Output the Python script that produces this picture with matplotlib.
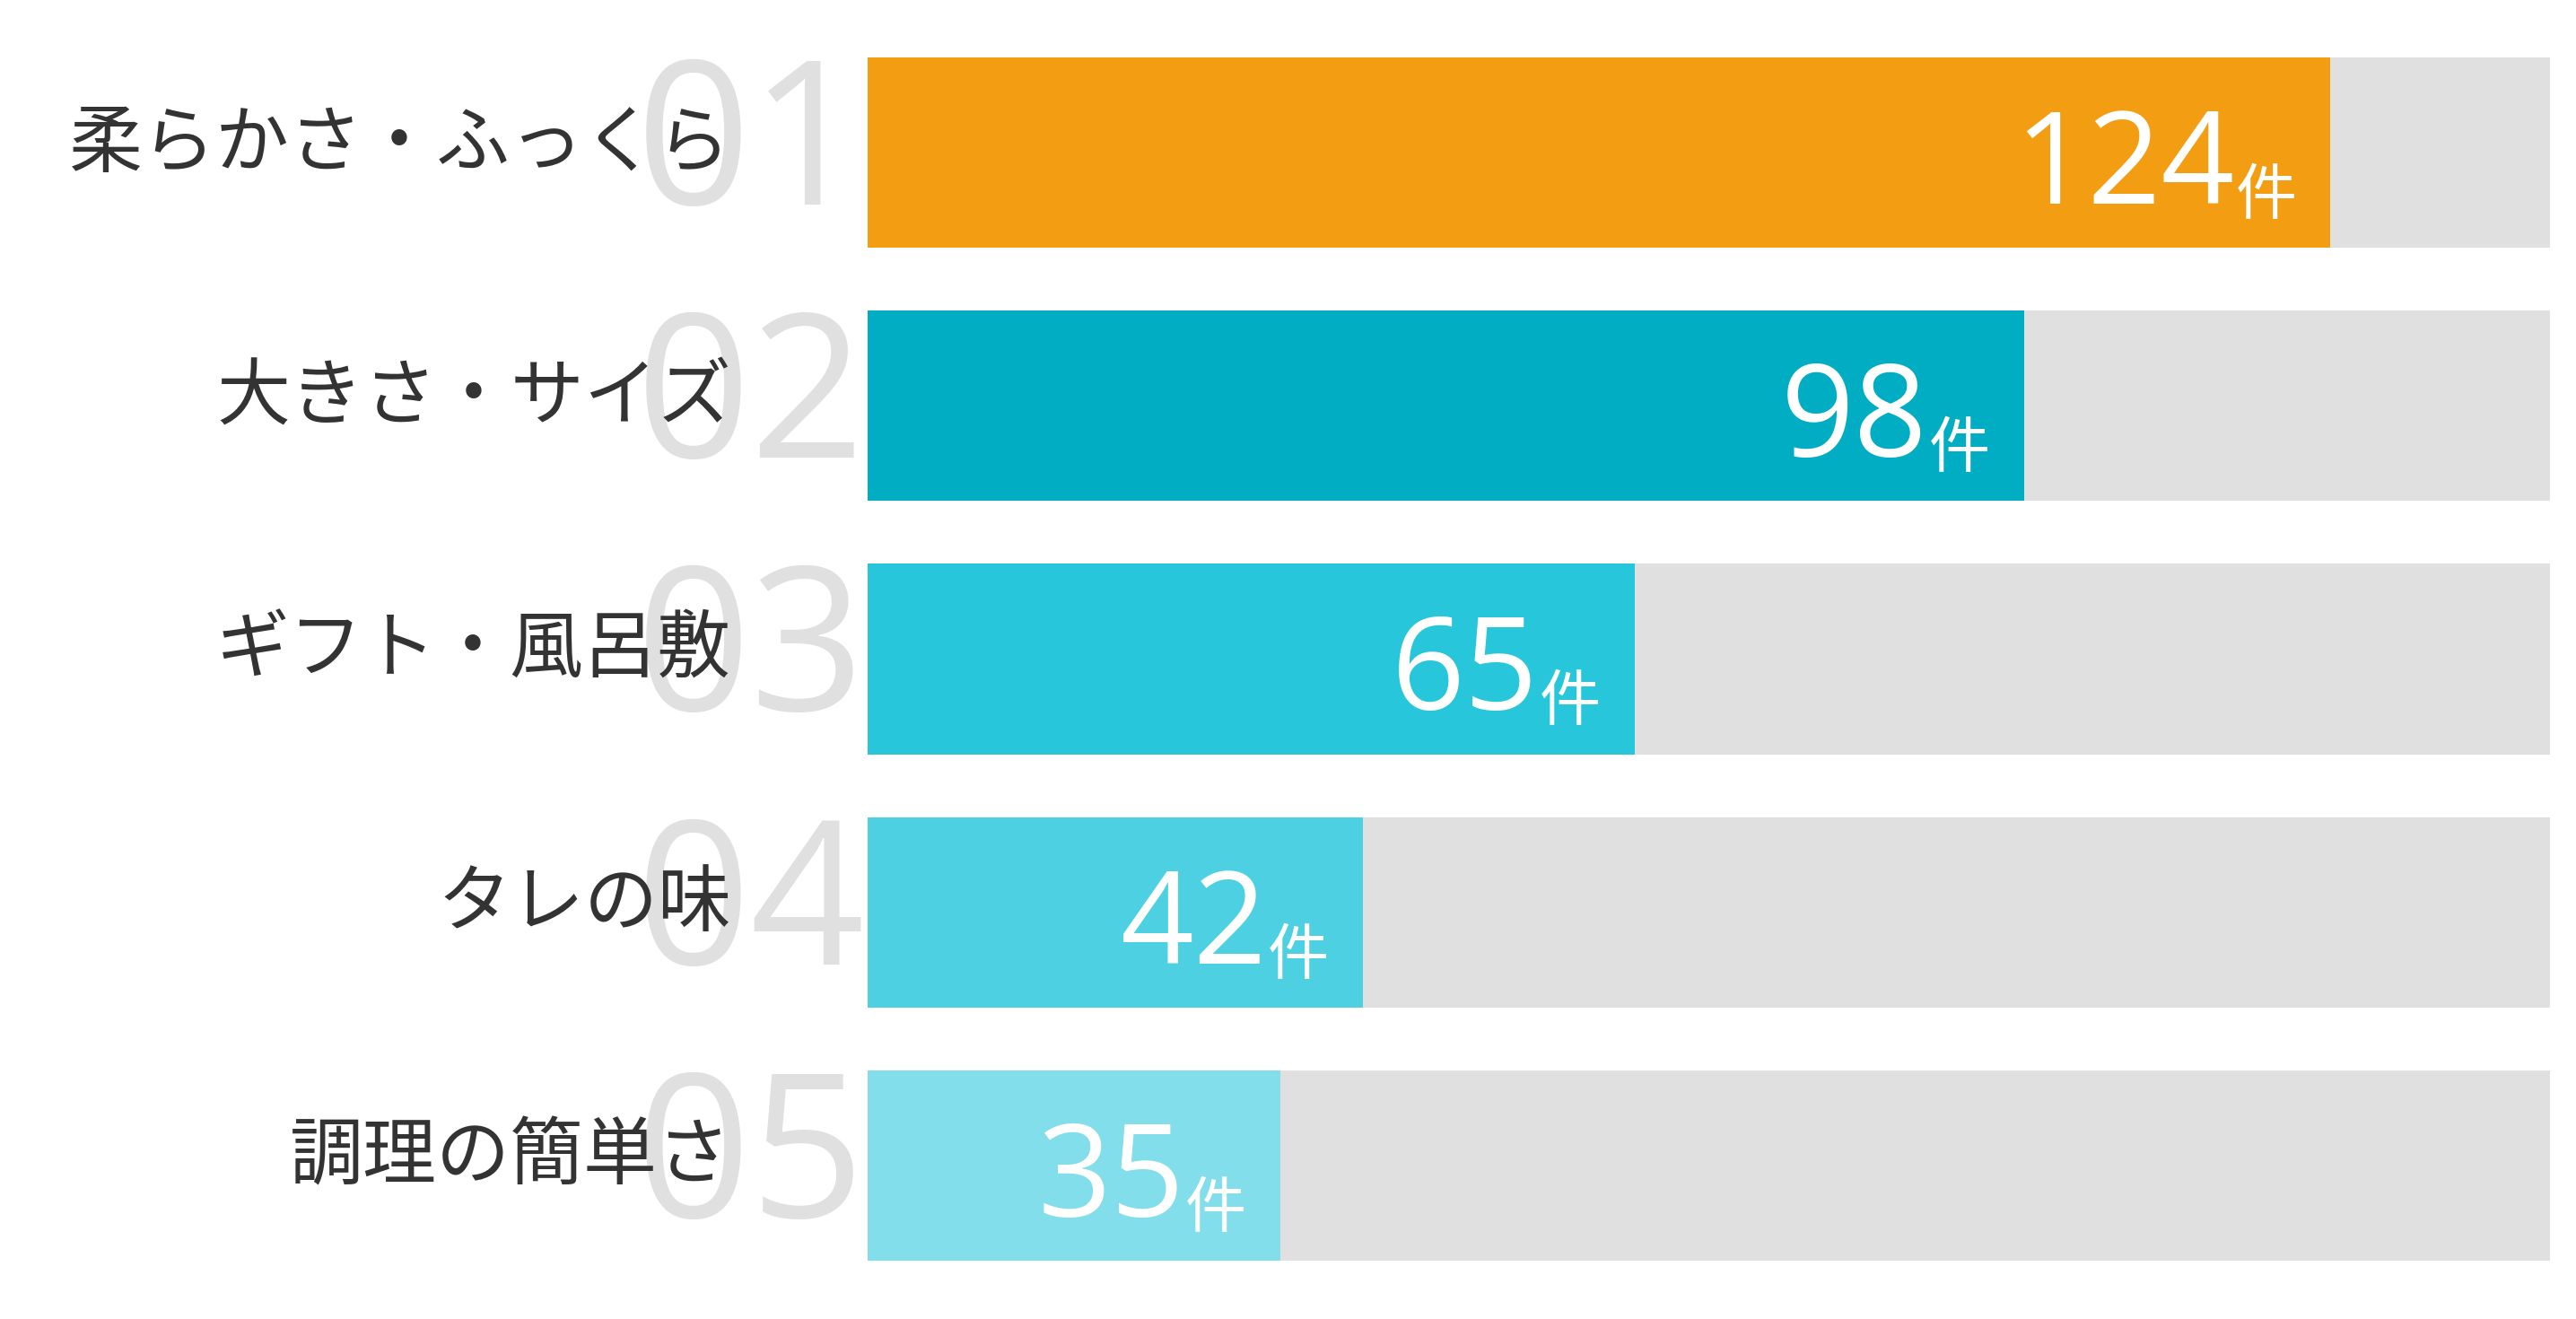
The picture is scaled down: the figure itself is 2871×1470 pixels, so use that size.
import matplotlib
matplotlib.use("Agg")
import matplotlib.pyplot as plt

plt.rcParams['font.family'] = ['Noto Sans CJK JP', 'DejaVu Sans']

categories = ["柔らかさ・ふっくら", "大きさ・サイズ", "ギフト・風呂敷", "タレの味", "調理の簡単さ"]
ranks = ["01", "02", "03", "04", "05"]
values = [124, 98, 65, 42, 35]
unit = "件"
scale_max = 142.6
colors = ["#F39E12", "#00ADC3", "#27C6DA", "#4DD1E2", "#81DEEA"]
track_color = "#E0E0E0"

W, H, DPI = 2871, 1470, 100
fig = plt.figure(figsize=(W / DPI, H / DPI), dpi=DPI)
fig.patch.set_facecolor("white")
left_px, right_px = 967, 2842
top_px, bot_px = 29, 1440
ax = fig.add_axes([left_px / W, 1 - bot_px / H, (right_px - left_px) / W, (bot_px - top_px) / H])

ypos = list(range(len(categories)))
bh = 0.752
ax.barh(ypos, [scale_max] * len(ypos), height=bh, color=track_color, zorder=1)
ax.barh(ypos, values, height=bh, color=colors, zorder=2)
ax.set_xlim(0, scale_max)
ax.set_ylim(len(categories) - 0.5, -0.5)
ax.axis("off")

num_font = ["Open Sans", "DejaVu Sans"]
pt = 72 / DPI  # points per pixel
for y, cat, rk, v in zip(ypos, categories, ranks, values):
    # big rank numerals
    ax.annotate(rk, xy=(0, y), xycoords=("axes fraction", "data"),
                xytext=(-3 * pt, -58 * pt), textcoords="offset points",
                ha="right", va="baseline", fontsize=161,
                family=num_font,
                color="#E0E0E0", zorder=0, annotation_clip=False)
    # category label
    ax.annotate(cat, xy=(0, y), xycoords=("axes fraction", "data"),
                xytext=(-152 * pt, 9 * pt), textcoords="offset points",
                ha="right", va="center", fontsize=59, color="#333333",
                zorder=3, annotation_clip=False)
    # unit
    ax.annotate(unit, xy=(v, y), xycoords="data",
                xytext=(-38 * pt, -50 * pt), textcoords="offset points",
                ha="right", va="center", fontsize=49, color="white", zorder=4)
    # value
    ax.annotate(str(v), xy=(v, y), xycoords="data",
                xytext=(-107 * pt, -57 * pt), textcoords="offset points",
                ha="right", va="baseline", fontsize=103, family=num_font,
                color="white", zorder=4)

fig.savefig("out.png", dpi=DPI, facecolor="white")
